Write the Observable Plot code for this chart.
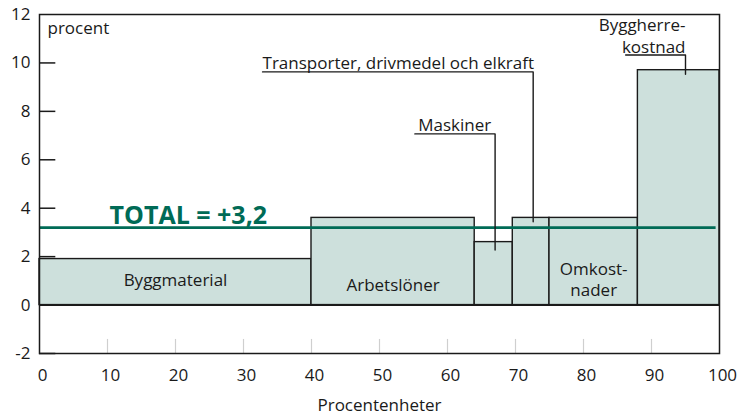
<!DOCTYPE html>
<html>
<head>
<meta charset="utf-8">
<script src="https://cdn.jsdelivr.net/npm/d3@7"></script>
<script src="https://cdn.jsdelivr.net/npm/@observablehq/plot@0.6"></script>
<style>
  html, body { margin: 0; padding: 0; background: #fff; }
  svg { display: block; }
</style>
</head>
<body>
<div id="chart"></div>
<script>
// Data
const categories = ["Byggmaterial", "Arbetslöner", "Maskiner", "Transporter, drivmedel och elkraft", "Omkostnader", "Byggherrekostnad"];
const shareStart = [0, 40, 64, 69.6, 75, 88];
const shareEnd = [40, 64, 69.6, 75, 88, 100];
const changes = [1.9, 3.6, 2.6, 3.6, 3.6, 9.7];
const total = 3.2;
const totalLabel = "TOTAL = +3,2";
const xTicks = [0, 10, 20, 30, 40, 50, 60, 70, 80, 90, 100];
const yTicks = [-2, 0, 2, 4, 6, 8, 10, 12];

const bars = categories.map((c, i) => ({category: c, x1: shareStart[i], x2: shareEnd[i], value: changes[i]}));

// Labels inside bars
const innerLabels = [
  {text: "Byggmaterial", x: 20, y: 1.05},
  {text: "Arbetslöner", x: 52, y: 0.85},
  {text: "Omkost-\nnader", x: 81.5, y: 1.1}
];

// Callout labels with leader lines
const calloutsLeft = [
  {text: "Maskiner", x: 55.7, y: 7.07},
  {text: "Transporter, drivmedel och elkraft", x: 32.8, y: 9.63}
];
const calloutsRight = [
  {text: "Byggherre-\nkostnad", x: 95, y: 10.33}
];
const leaderPaths = [
  [[55.2, 7.07], [67, 7.07], [67, 2.27]],
  [[32.8, 9.63], [72.6, 9.63], [72.6, 3.44]],
  [[86.2, 10.33], [95, 10.33], [95, 9.53]]
];
const leaderPts = leaderPaths.flatMap((p, k) => p.map(([x, y]) => ({k, x, y})));

const green = "#006b56";
const ink = "#1a1a1a";

const chart = Plot.plot({
  width: 742,
  height: 414,
  marginLeft: 39,
  marginRight: 23,
  marginTop: 14,
  marginBottom: 61,
  style: {fontFamily: "'Open Sans', sans-serif", fontSize: "17px", color: ink, background: "#fff"},
  x: {domain: [0, 100]},
  y: {domain: [-2, 12]},
  marks: [
    Plot.axisY(yTicks, {tickSize: 0, tickPadding: 9, fontSize: 17, tickFormat: d => String(d), label: null}),
    Plot.axisX(xTicks, {tickSize: 0, tickPadding: 15, fontSize: 17, dx: 3, tickFormat: d => String(d), label: "Procentenheter", labelAnchor: "center", labelArrow: "none", labelOffset: 57}),
    Plot.ruleX(xTicks.filter(d => d > 0 && d < 100), {y1: -2, y2: -1.42, stroke: "#cfcfcf", strokeWidth: 1.2}),
    Plot.ruleY(yTicks.filter(d => d !== 0 && d !== 12), {x1: 0, x2: 2.4, stroke: ink, strokeWidth: 1.5}),
    Plot.rect(bars, {x1: "x1", x2: "x2", y1: 0, y2: "value", fill: "#cde0dc", stroke: ink, strokeWidth: 1.4}),
    Plot.ruleY([0], {stroke: ink, strokeWidth: 2}),
    Plot.ruleY([total], {x1: 0, x2: 99.5, stroke: green, strokeWidth: 2.6}),
    Plot.text([totalLabel], {x: 10.3, y: total, text: d => d, textAnchor: "start", lineAnchor: "bottom", dy: -4, fill: green, fontWeight: "bold", fontSize: 25}),
    Plot.text(innerLabels, {x: "x", y: "y", text: "text", fontSize: 17, fill: ink, lineHeight: 1.25}),
    Plot.line(leaderPts, {x: "x", y: "y", z: "k", stroke: ink, strokeWidth: 1.4}),
    Plot.text(calloutsLeft, {x: "x", y: "y", text: "text", textAnchor: "start", lineAnchor: "bottom", dy: -3, fontSize: 17, fill: ink}),
    Plot.text(calloutsRight, {x: "x", y: "y", text: "text", textAnchor: "end", lineAnchor: "bottom", dy: -2, fontSize: 17, fill: ink, lineHeight: 1.3}),
    Plot.text(["procent"], {frameAnchor: "top-left", text: d => d, dx: 8, dy: 7, fontSize: 17, fill: ink}),
    Plot.frame({stroke: ink, strokeWidth: 1.5})
  ]
});
document.getElementById("chart").appendChild(chart);
</script>
</body>
</html>
